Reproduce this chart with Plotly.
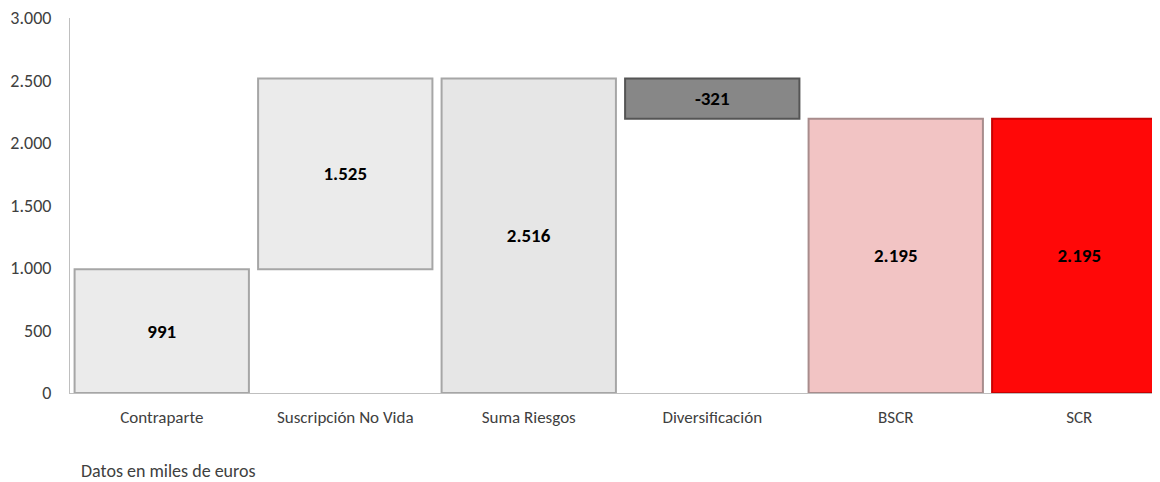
import plotly.graph_objects as go

categories = ["Contraparte", "Suscripción No Vida", "Suma Riesgos", "Diversificación", "BSCR", "SCR"]
values = [991, 1525, 2516, -321, 2195, 2195]
bases = [0, 991, 0, 2516, 0, 0]
colors = ["#EBEBEB", "#EBEBEB", "#E6E6E6", "#878787", "#F2C4C4", "#FF0808"]
edge_colors = ["#A6A6A6", "#A6A6A6", "#A6A6A6", "#555555", "#A88C8C", "#C80000"]
y_ticks = [0, 500, 1000, 1500, 2000, 2500, 3000]

def fmt(v):
    s = f"{abs(v):,}".replace(",", ".")
    return ("-" if v < 0 else "") + s

FONT = "Carlito, Lato, 'Liberation Sans', sans-serif"

fig = go.Figure()
fig.add_trace(go.Bar(
    x=categories, y=values, base=bases,
    width=0.95,
    marker=dict(color=colors, line=dict(color=edge_colors, width=2)),
    text=[fmt(v) for v in values],
    textposition="inside", insidetextanchor="middle", textangle=0,
    textfont=dict(family=FONT, size=19, color="#000000", weight="bold"),
    hoverinfo="skip",
))

# page body adds an 8px offset, so the figure is sized/margined to compensate
fig.update_layout(
    width=1152, height=474,
    margin=dict(l=62, r=0, t=10, b=89),
    paper_bgcolor="white", plot_bgcolor="white",
    separators=",.",
    showlegend=False,
    font=dict(family=FONT, color="#404040"),
    xaxis=dict(
        range=[-0.5, 5.44], showgrid=False, zeroline=False,
        showline=True, linecolor="#BFBFBF", linewidth=1,
        ticks="", tickfont=dict(size=17, color="#404040"),
        ticklabelstandoff=9,
    ),
    yaxis=dict(
        range=[0, 3000], tickvals=y_ticks, tickformat=",d",
        showgrid=False, zeroline=False,
        showline=True, linecolor="#BFBFBF", linewidth=1,
        ticks="", tickfont=dict(size=18, color="#404040"),
        ticklabelstandoff=14, ticklabeloverflow="allow",
    ),
    annotations=[dict(
        text="Datos en miles de euros", xref="paper", yref="paper",
        x=0.008, y=-0.172, xanchor="left", yanchor="top", showarrow=False,
        font=dict(family=FONT, size=18, color="#404040"),
    )],
)

fig.write_html("out.html")
